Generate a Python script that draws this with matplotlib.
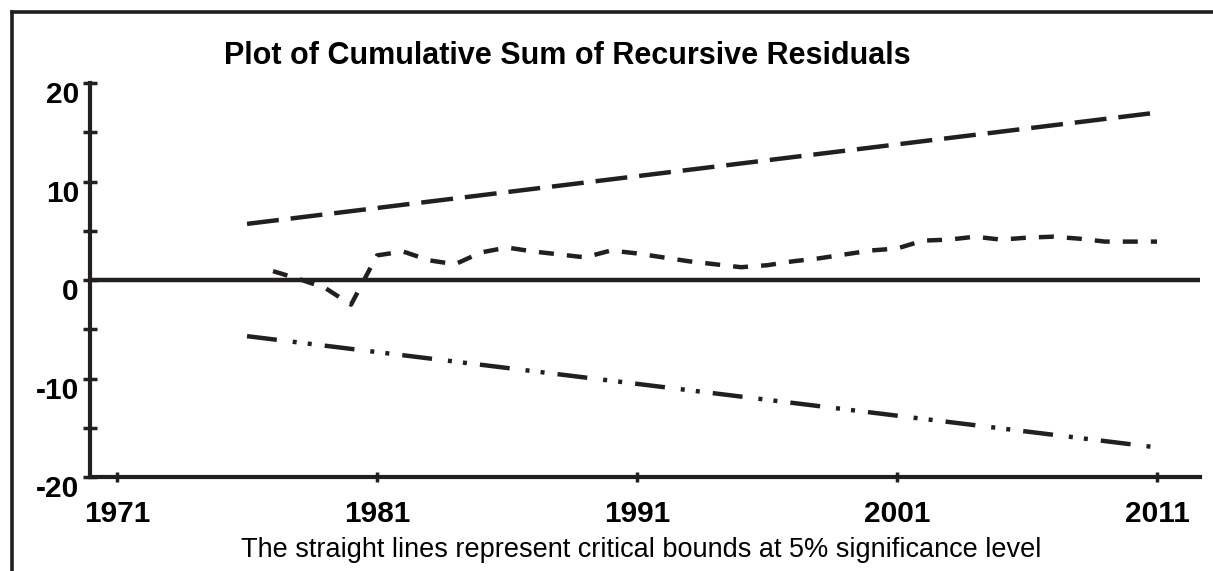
import matplotlib
matplotlib.use("Agg")
import matplotlib.pyplot as plt
from matplotlib.lines import Line2D
from matplotlib.transforms import ScaledTranslation

plt.rcParams['font.family'] = ['Liberation Sans', 'DejaVu Sans']
plt.rcParams['lines.scale_dashes'] = False
plt.rcParams['axes.unicode_minus'] = False

INK = '#231f20'

# CUSUM of recursive residuals
years = list(range(1977, 2012))
cusum = [0.9, 0.1, -0.8, -2.5, 2.5, 2.9, 2.0, 1.6, 2.8, 3.3,
         2.9, 2.6, 2.3, 3.0, 2.7, 2.3, 1.9, 1.6, 1.3, 1.5,
         1.9, 2.2, 2.6, 3.0, 3.2, 4.0, 4.1, 4.4, 4.1, 4.3,
         4.4, 4.2, 3.9, 3.9, 3.9]

# 5% critical bounds (straight lines)
bound_years = [1976, 2011]
upper = [5.7, 17.0]
lower = [-5.7, -17.0]

x_ticks = [1971, 1981, 1991, 2001, 2011]
y_ticks = [-20, -10, 0, 10, 20]
y_minor = [-15, -5, 5, 15]

fig = plt.figure(figsize=(12.13, 5.71), dpi=100)
ax = fig.add_axes([0.0742, 0.1646, 0.915, 0.690])

ax.axhline(0, color=INK, lw=3.2, zorder=1)
ax.plot(bound_years, upper, color=INK, lw=3.2, dashes=(23, 8.6))
ax.plot(bound_years, lower, color=INK, lw=3.2,
        dashes=(21.6, 11.5, 2.9, 8, 2.9, 9.4))
ax.plot(years, cusum, color=INK, lw=3.2, dashes=(10.8, 9.4))

ax.set_xlim(1969.96, 2012.65)
ax.set_ylim(-20, 20)
ax.set_xticks(x_ticks)
ax.set_yticks(y_ticks)
ax.set_yticks(y_minor, minor=True)

for side in ['top', 'right']:
    ax.spines[side].set_visible(False)
for side in ['left', 'bottom']:
    ax.spines[side].set_linewidth(3)
    ax.spines[side].set_color(INK)

ax.tick_params(axis='y', which='both', direction='inout', length=10,
               width=2.5, color=INK, labelsize=21.5, pad=3)
ax.tick_params(axis='x', direction='inout', length=7, width=2.5,
               color=INK, labelsize=21.5, pad=13)
for lbl in ax.get_xticklabels() + ax.get_yticklabels():
    lbl.set_fontweight('bold')
for lbl in ax.get_yticklabels():
    lbl.set_transform(lbl.get_transform() +
                      ScaledTranslation(0, -0.09, fig.dpi_scale_trans))

fig.text(0.468, 0.902, 'Plot of Cumulative Sum of Recursive Residuals',
         ha='center', va='center', fontsize=22, fontweight='bold')
fig.text(0.529, 0.036,
         'The straight lines represent critical bounds at 5% significance level',
         ha='center', va='center', fontsize=19.5)

# frame around the figure (runs off right and bottom)
y_top = 1 - 12 / 571
x_left = 12 / 1213
fig.add_artist(Line2D([x_left, 1.0], [y_top, y_top], color=INK, lw=2.6,
                      transform=fig.transFigure))
fig.add_artist(Line2D([x_left, x_left], [0.0, y_top], color=INK, lw=2.6,
                      transform=fig.transFigure))

fig.savefig('out.png', dpi=100)
